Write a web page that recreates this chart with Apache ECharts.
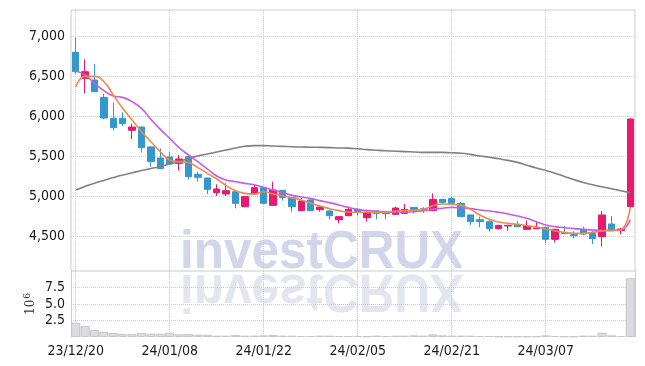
<!DOCTYPE html>
<html>
<head>
<meta charset="utf-8">
<script src="https://cdn.jsdelivr.net/npm/echarts@6/dist/echarts.min.js"></script>
<style>
html,body{margin:0;padding:0;background:#fff;}
#chart{width:645px;height:366px;}
</style>
</head>
<body>
<div id="chart"></div>
<script>
var dates = ['23/12/20','23/12/21','23/12/22','23/12/26','23/12/27','23/12/28',
  '24/01/02','24/01/03','24/01/04','24/01/05','24/01/08','24/01/09','24/01/10','24/01/11','24/01/12',
  '24/01/15','24/01/16','24/01/17','24/01/18','24/01/19','24/01/22','24/01/23','24/01/24','24/01/25','24/01/26',
  '24/01/29','24/01/30','24/01/31','24/02/01','24/02/02','24/02/05','24/02/06','24/02/07','24/02/08',
  '24/02/13','24/02/14','24/02/15','24/02/16','24/02/19','24/02/20','24/02/21','24/02/22','24/02/23',
  '24/02/26','24/02/27','24/02/28','24/02/29','24/03/04','24/03/05','24/03/06','24/03/07','24/03/08',
  '24/03/11','24/03/12','24/03/13','24/03/14','24/03/15','24/03/18','24/03/19','24/03/20'];

var opens  = [6796,6471,6450,6233,5971,5971,5821,5862,5613,5475,5488,5408,5492,5271,5225,5042,5025,5054,4867,5025,
              5104,4883,5071,4979,4817,4950,4829,4813,4704,4754,4833,4729,4813,4788,4771,4783,4858,4842,4817,4958,
              4967,4908,4763,4704,4679,4592,4625,4642,4583,4592,4608,4458,4542,4517,4575,4533,4492,4650,4567,4867];
var closes = [6554,6554,6304,5975,5854,5904,5862,5604,5429,5342,5400,5463,5242,5233,5083,5088,5067,4908,4992,5104,
              4908,5075,4979,4867,4938,4817,4863,4754,4742,4833,4804,4796,4783,4779,4850,4833,4829,4817,4958,4921,
              4908,4742,4679,4679,4592,4633,4633,4617,4625,4600,4458,4583,4529,4504,4525,4467,4763,4567,4588,5963];
var lows   = [6530,6283,6300,5958,5817,5875,5713,5542,5367,5335,5395,5317,5208,5179,5025,5000,5000,4846,4860,5020,
              4900,4880,4942,4804,4812,4810,4804,4708,4658,4750,4754,4679,4708,4708,4765,4775,4783,4790,4812,4900,
              4900,4740,4638,4608,4554,4580,4567,4610,4580,4590,4408,4420,4525,4471,4510,4400,4367,4560,4521,4860];
var highs  = [6983,6708,6650,6275,6167,6046,5904,5870,5620,5596,5554,5513,5495,5304,5230,5146,5158,5060,5000,5138,
              5110,5179,5075,4985,4979,4965,4870,4830,4750,4854,4840,4830,4815,4815,4867,4900,4862,4860,5033,4965,
              4992,4925,4765,4742,4700,4640,4640,4688,4692,4679,4612,4590,4625,4560,4617,4570,4813,4750,4600,5970];

var ma5  = [6366,6495,6495,6429,6263,6096,5950,5804,5679,5554,5450,5429,5417,5354,5283,5213,5129,5067,5033,5025,
            5054,5025,5004,4979,4950,4908,4875,4842,4817,4800,4796,4796,4796,4800,4808,4817,4821,4833,4879,4900,
            4896,4883,4833,4763,4708,4675,4658,4646,4629,4613,4588,4563,4546,4533,4533,4546,4563,4567,4578,4862];
var ma20 = [6563,6513,6408,6317,6250,6233,6179,6096,5958,5833,5721,5604,5513,5429,5338,5250,5200,5179,5158,5140,
            5108,5075,5042,5008,4988,4967,4942,4917,4888,4858,4833,4817,4808,4804,4800,4800,4804,4817,4833,4846,
            4858,4854,4842,4825,4813,4796,4775,4750,4721,4679,4638,4617,4604,4592,4583,4575,4571,4571,4575,4705];
var ma60 = [5075,5120,5160,5195,5230,5262,5290,5318,5343,5366,5400,5430,5470,5500,5525,5550,5575,5600,5622,5630,
            5630,5625,5620,5615,5612,5610,5608,5605,5600,5598,5590,5580,5572,5565,5560,5555,5550,5545,5545,5545,
            5540,5535,5520,5500,5485,5465,5445,5420,5385,5350,5320,5285,5245,5205,5170,5140,5115,5090,5065,5040];

var volumes = [2.17,1.67,1.06,0.8,0.6,0.45,0.45,0.6,0.5,0.5,0.65,0.4,0.45,0.35,0.35,0.2,0.2,0.3,0.2,0.2,
               0.25,0.3,0.2,0.2,0.15,0.15,0.2,0.2,0.15,0.15,0.15,0.1,0.2,0.15,0.2,0.2,0.25,0.2,0.4,0.25,
               0.2,0.2,0.2,0.15,0.15,0.1,0.1,0.1,0.1,0.1,0.25,0.15,0.1,0.1,0.2,0.2,0.65,0.25,0.15,8.9];

var priceMin = 4062.5, priceMax = 7325;
var volMin = 0, volMax = 10, volStep = 2.5;
var watermark = 'investCRUX';

var candles = dates.map(function (d, i) { return [opens[i], closes[i], lows[i], highs[i]]; });

var UP = '#e8196e', DOWN = '#3399cc';
var labelFont = "'Liberation Sans Narrow','DejaVu Sans Condensed',sans-serif";
var gridLineColor = '#c9cbdf';

var chart = echarts.init(document.getElementById('chart'), null, {renderer: 'canvas'});
chart.setOption({
  animation: false,
  backgroundColor: '#fff',
  graphic: [
    {type: 'group', x: 180, y: 271.5, scaleX: 0.916, z: -10, silent: true, children: [
      {type: 'text', z: -10, style: {text: watermark, x: 0, y: -18.7, fill: '#d1d6ea',
        font: 'bold 54px "Liberation Sans", Arial, sans-serif', textVerticalAlign: 'middle', verticalAlign: 'middle'}}
    ]},
    {type: 'group', x: 180, y: 271.5, scaleX: 0.916, scaleY: -1, z: -10, silent: true, children: [
      {type: 'text', z: -10, style: {text: watermark, x: 0, y: -18.7, fill: '#e3e6f1',
        font: 'bold 54px "Liberation Sans", Arial, sans-serif', textVerticalAlign: 'middle', verticalAlign: 'middle'}}
    ]}
  ],
  grid: [
    {left: 71, right: 10, top: 10, height: 261, show: true, borderColor: '#cccccc', borderWidth: 1, backgroundColor: 'transparent'},
    {left: 71, right: 10, top: 271, height: 66}
  ],
  xAxis: [
    {type: 'category', gridIndex: 0, data: dates, boundaryGap: true,
      axisLine: {show: false}, axisTick: {show: false}, axisLabel: {show: false},
      splitLine: {show: true, interval: 9, alignWithLabel: true, lineStyle: {type: 'dotted', color: gridLineColor}}},
    {type: 'category', gridIndex: 1, data: dates, boundaryGap: true,
      axisLine: {show: false}, axisTick: {show: false},
      axisLabel: {show: true, interval: 9, fontFamily: labelFont, fontSize: 14, color: '#1a1a1a', margin: 7},
      splitLine: {show: true, interval: 9, alignWithLabel: true, lineStyle: {type: 'dotted', color: gridLineColor}}}
  ],
  yAxis: [
    {type: 'value', gridIndex: 0, min: priceMin, max: priceMax,
      axisLine: {show: false}, axisTick: {show: false},
      axisLabel: {showMinLabel: false, showMaxLabel: false, fontFamily: labelFont, fontSize: 14, color: '#1a1a1a', margin: 6,
        padding: [3, 0, 0, 0],
        formatter: function (v) { return String(v).replace(/\B(?=(\d{3})+(?!\d))/g, ','); }},
      splitLine: {show: true, showMinLine: false, showMaxLine: false, lineStyle: {type: 'dotted', color: gridLineColor}}},
    {type: 'value', gridIndex: 1, min: volMin, max: volMax, interval: volStep,
      axisLine: {show: true, lineStyle: {color: '#cccccc'}}, axisTick: {show: false},
      axisLabel: {showMinLabel: false, showMaxLabel: false, fontFamily: labelFont, fontSize: 14, color: '#1a1a1a', margin: 6,
        formatter: function (v) { return v.toFixed(1); }},
      splitLine: {show: true, showMinLine: false, showMaxLine: false, lineStyle: {type: 'dotted', color: gridLineColor}},
      name: '{a|10}{b|6}', nameLocation: 'middle', nameRotate: 90, nameGap: 34, nameMoveOverlap: false,
      nameTextStyle: {rich: {
        a: {fontFamily: "'DejaVu Serif', serif", fontSize: 12, color: '#333', verticalAlign: 'bottom', lineHeight: 14},
        b: {fontFamily: "'DejaVu Serif', serif", fontSize: 9, color: '#333', verticalAlign: 'top', lineHeight: 14, padding: [0, 0, 6, 1]}
      }}},
    {type: 'value', gridIndex: 1, position: 'right', min: volMin, max: volMax,
      axisLine: {show: true, lineStyle: {color: '#cccccc'}}, axisTick: {show: false}, axisLabel: {show: false},
      splitLine: {show: false}}
  ],
  series: [
    {type: 'candlestick', xAxisIndex: 0, yAxisIndex: 0, data: candles, barWidth: 7,
      itemStyle: {color: UP, color0: DOWN, borderColor: UP, borderColor0: DOWN, borderWidth: 1}},
    {type: 'line', xAxisIndex: 0, yAxisIndex: 0, data: ma60, smooth: true, showSymbol: false,
      lineStyle: {color: '#808080', width: 1.6}},
    {type: 'line', xAxisIndex: 0, yAxisIndex: 0, data: ma20, smooth: true, showSymbol: false,
      lineStyle: {color: '#c75be8', width: 1.6}},
    {type: 'line', xAxisIndex: 0, yAxisIndex: 0, data: ma5, smooth: true, showSymbol: false,
      lineStyle: {color: '#ef8a4c', width: 1.6}},
    {type: 'bar', xAxisIndex: 1, yAxisIndex: 1, data: volumes, barCategoryGap: '3%',
      itemStyle: {color: '#dcdce0', borderColor: '#c5c5cc', borderWidth: 1}}
  ]
});
</script>
</body>
</html>
